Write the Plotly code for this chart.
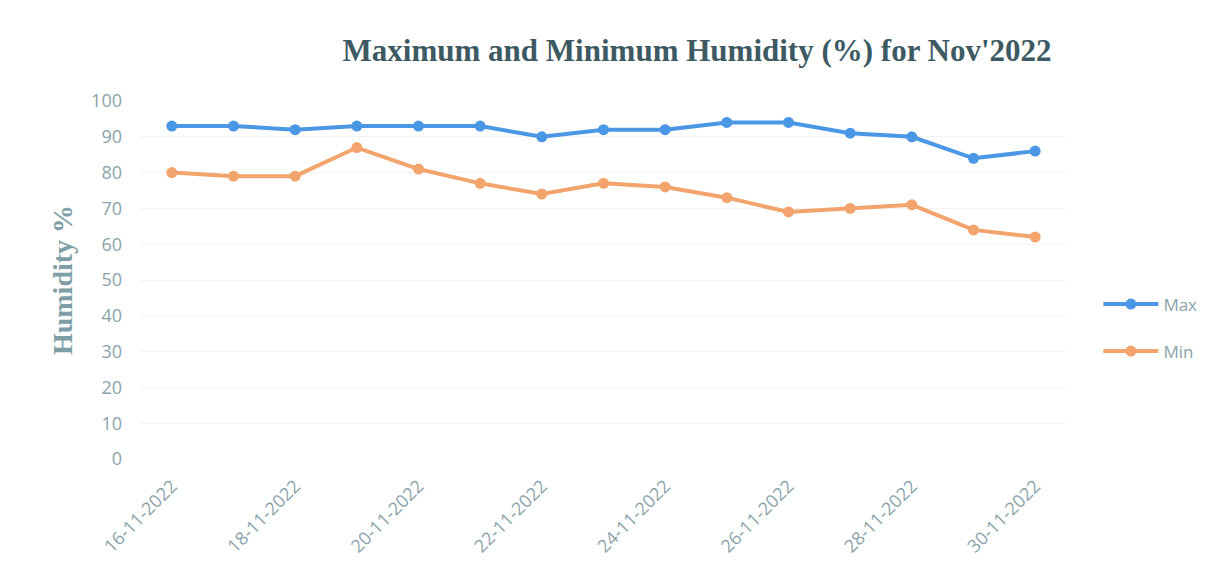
import plotly.graph_objects as go

dates = ["16-11-2022", "17-11-2022", "18-11-2022", "19-11-2022", "20-11-2022",
         "21-11-2022", "22-11-2022", "23-11-2022", "24-11-2022", "25-11-2022",
         "26-11-2022", "27-11-2022", "28-11-2022", "29-11-2022", "30-11-2022"]
max_hum = [93, 93, 92, 93, 93, 93, 90, 92, 92, 94, 94, 91, 90, 84, 86]
min_hum = [80, 79, 79, 87, 81, 77, 74, 77, 76, 73, 69, 70, 71, 64, 62]
y_ticks = [0, 10, 20, 30, 40, 50, 60, 70, 80, 90, 100]

tick_color = "#8aa3aa"

fig = go.Figure()
fig.add_trace(go.Scatter(x=dates, y=max_hum, name="Max", mode="lines+markers",
                         legendgroup="a",
                         line=dict(color="#4a97e6", width=4),
                         marker=dict(size=11, color="#4a97e6")))
fig.add_trace(go.Scatter(x=dates, y=min_hum, name="Min", mode="lines+markers",
                         legendgroup="b",
                         line=dict(color="#f2a46c", width=4),
                         marker=dict(size=11, color="#f2a46c")))

fig.update_layout(
    width=1224, height=580,
    paper_bgcolor="white", plot_bgcolor="white",
    margin=dict(l=133, r=166, t=93, b=129),
    title=dict(text="Maximum and Minimum Humidity (%) for Nov'2022",
               x=0.563, xanchor="center", y=0.928, yanchor="middle",
               font=dict(family="Liberation Serif", size=31, color="#3d5a63",
                         weight="bold")),
    xaxis=dict(type="category", tickvals=dates[::2], ticktext=dates[::2],
               tickangle=-45, showgrid=False, showline=False, ticks="",
               automargin=False, ticklabelstandoff=12,
               tickfont=dict(family="Open Sans", size=18, color=tick_color),
               range=[-0.5, len(dates) - 0.5]),
    yaxis=dict(range=[0, 100], tickvals=y_ticks, showgrid=True,
               gridcolor="#f3f3f3", gridwidth=1, zeroline=False,
               automargin=False,
               tickfont=dict(family="Open Sans", size=18, color=tick_color),
               ticklabelstandoff=18,
               title=dict(text="Humidity %", standoff=10,
                          font=dict(family="Liberation Serif", size=28,
                                    color="#7d9ea6", weight="bold"))),
    legend=dict(x=1.035, y=0.366, xanchor="left", yanchor="middle",
                traceorder="grouped",
                font=dict(family="Open Sans", size=17, color=tick_color),
                tracegroupgap=22, itemwidth=55),
    showlegend=True,
)

fig.write_html("out.html")
